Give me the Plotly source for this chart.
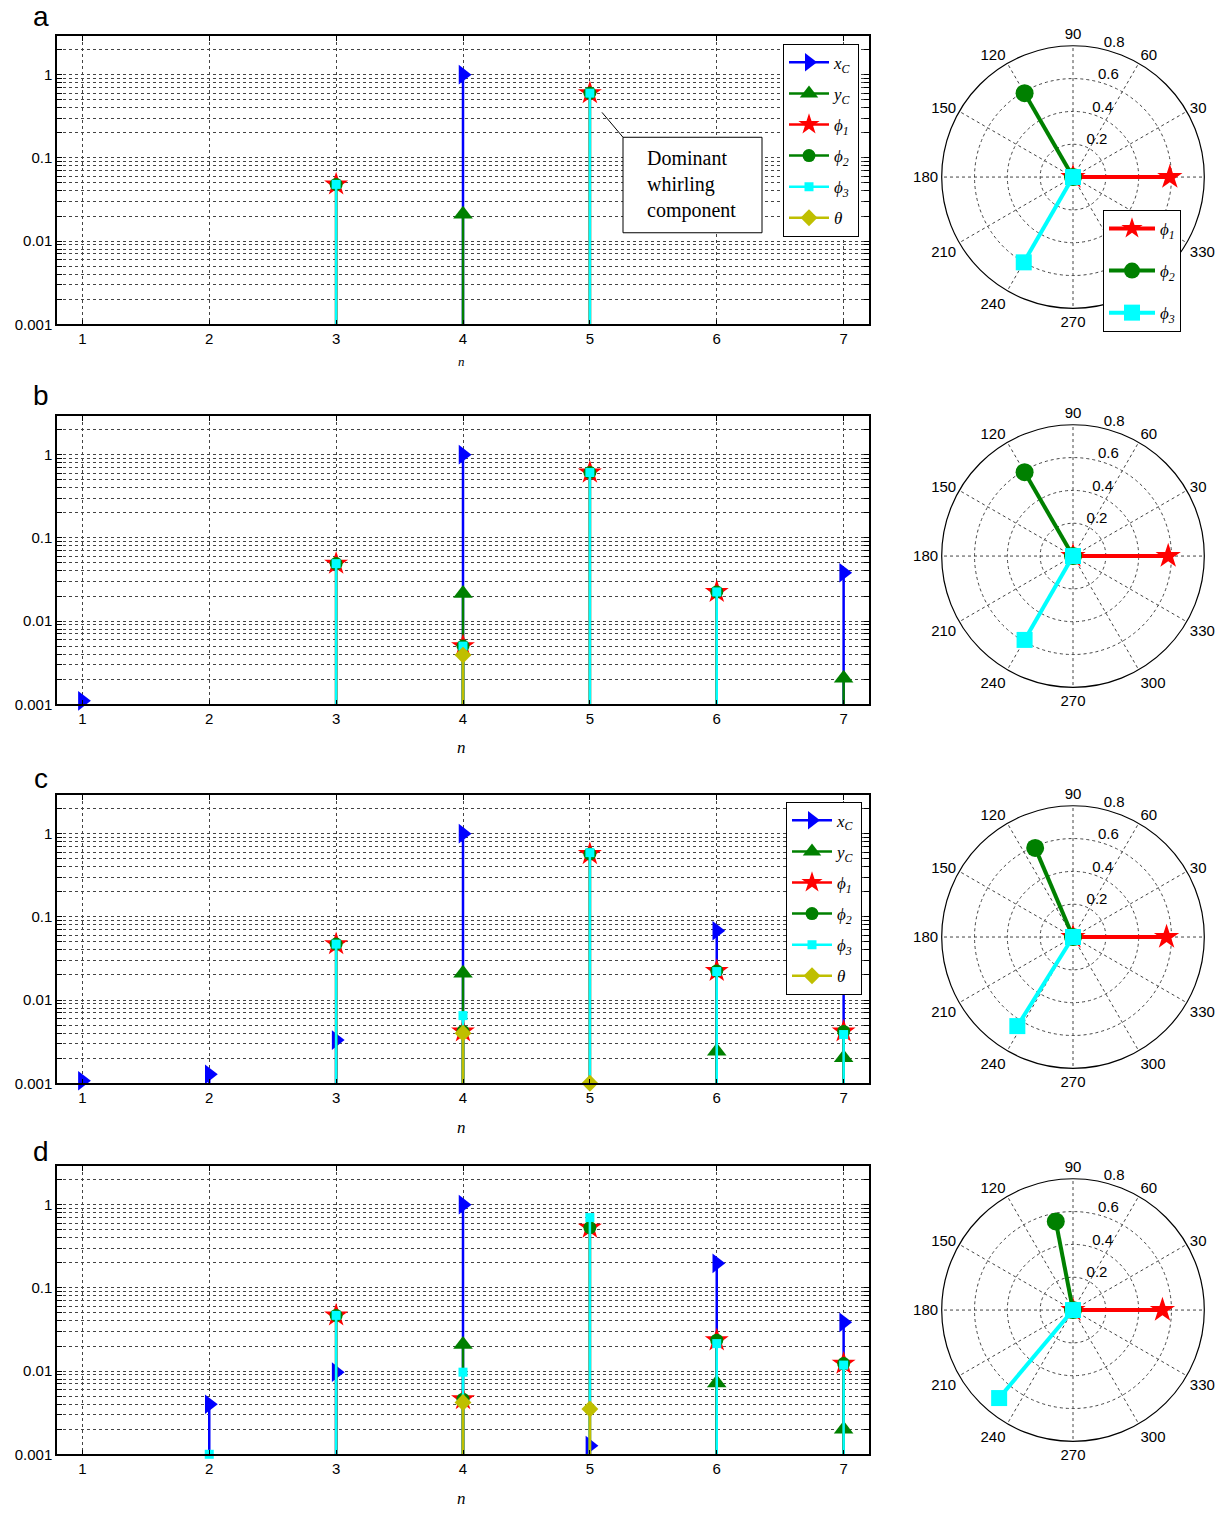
import math
import plotly.graph_objects as go

W, H = 1230, 1516

# ---------------- data ----------------
n = [1, 2, 3, 4, 5, 6, 7]
x_tick_labels = ["1", "2", "3", "4", "5", "6", "7"]
y_major_vals = [0.001, 0.01, 0.1, 1]
y_major_labels = ["0.001", "0.01", "0.1", "1"]

series_labels = ["<i>x</i><sub><i>C</i></sub>", "<i>y</i><sub><i>C</i></sub>",
                 "<i>ϕ</i><sub><i>1</i></sub>", "<i>ϕ</i><sub><i>2</i></sub>",
                 "<i>ϕ</i><sub><i>3</i></sub>", "<i>θ</i>"]

# panel a
a_xC    = [None, None, None, 1.0, None, None, None]
a_yC    = [None, None, None, 0.021, None, None, None]
a_phi1  = [None, None, 0.048, None, 0.60, None, None]
a_phi2  = [None, None, 0.048, None, 0.60, None, None]
a_phi3  = [None, None, 0.048, None, 0.60, None, None]
a_theta = [None, None, None, None, None, None, None]
# panel b
b_xC    = [0.0011, None, None, 1.0, None, None, 0.038]
b_yC    = [None, None, None, 0.0214, None, None, 0.00206]
b_phi1  = [None, None, 0.049, 0.005, 0.61, 0.0224, None]
b_phi2  = [None, None, 0.049, 0.005, 0.61, 0.0224, None]
b_phi3  = [None, None, 0.049, 0.005, 0.61, 0.0224, None]
b_theta = [None, None, None, 0.0039, None, None, None]
# panel c
c_xC    = [0.00107, 0.00128, 0.0033, 1.0, None, 0.068, 0.04]
c_yC    = [None, None, None, 0.021, None, 0.00243, 0.00203]
c_phi1  = [None, None, 0.047, 0.0042, 0.57, 0.0224, 0.0042]
c_phi2  = [None, None, 0.047, 0.0042, 0.57, 0.0224, 0.0042]
c_phi3  = [None, None, 0.047, 0.0065, 0.59, 0.022, 0.00385]
c_theta = [None, None, None, 0.0040, 0.001, None, None]
# panel d
d_xC    = [None, 0.004, 0.0097, 1.0, 0.00127, 0.197, 0.0385]
d_yC    = [None, None, None, 0.0208, None, 0.0072, 0.002]
d_phi1  = [None, None, 0.0467, 0.0046, 0.53, 0.0235, 0.0123]
d_phi2  = [None, None, 0.0467, 0.0046, 0.53, 0.0235, 0.0123]
d_phi3  = [None, 0.001, 0.0467, 0.0097, 0.70, 0.0214, 0.0118]
d_theta = [None, None, None, 0.0042, 0.0035, None, None]

# polar mode shapes (phi1, phi2, phi3)
polar_labels = ["<i>ϕ</i><sub><i>1</i></sub>", "<i>ϕ</i><sub><i>2</i></sub>", "<i>ϕ</i><sub><i>3</i></sub>"]
a_polar_r = [0.59, 0.59, 0.60]
a_polar_deg = [0, 120, 240]
b_polar_r = [0.58, 0.59, 0.59]
b_polar_deg = [0, 120, 240]
c_polar_r = [0.57, 0.59, 0.64]
c_polar_deg = [0, 113, 238]
d_polar_r = [0.545, 0.55, 0.70]
d_polar_deg = [0, 101, 230]
polar_ticks = [0.2, 0.4, 0.6, 0.8]
polar_tick_labels = ["0.2", "0.4", "0.6", "0.8"]
angle_vals = list(range(0, 360, 30))
angle_labels = [""] + [str(a) for a in range(30, 360, 30)]
# in panel a the 300 label is hidden behind the legend
angle_labels_a = [("" if a in ("300",) else a) for a in angle_labels]

panel_letters = ["a", "b", "c", "d"]

# ---------------- styling ----------------
colors = ["#0000ff", "#008000", "#ff0000", "#008000", "#00ffff", "#bfbf00"]
symbols = ["triangle-right", "triangle-up", "star", "circle", "square", "diamond"]
sizes = [17, 17, 18, 13, 9, 13]
legend_sizes = [16, 16, 16, 13, 9, 13]
polar_colors = ["#ff0000", "#008000", "#00ffff"]
polar_symbols = ["star", "circle", "square"]
polar_sizes = [19, 18, 16]

SANS = "Liberation Sans, Arial, sans-serif"
SERIF = "Liberation Serif, Times New Roman, serif"
GRID = "#444444"

panels = [
    [a_xC, a_yC, a_phi1, a_phi2, a_phi3, a_theta],
    [b_xC, b_yC, b_phi1, b_phi2, b_phi3, b_theta],
    [c_xC, c_yC, c_phi1, c_phi2, c_phi3, c_theta],
    [d_xC, d_yC, d_phi1, d_phi2, d_phi3, d_theta],
]
polars = [(a_polar_r, a_polar_deg), (b_polar_r, b_polar_deg),
          (c_polar_r, c_polar_deg), (d_polar_r, d_polar_deg)]

# layout geometry (pixels)
ax_left, ax_right = 57, 869
ax_tops = [36, 418, 799, 1172]
ax_bots = [326, 708, 1089, 1462]
polar_cx = 1073
polar_cy = [178, 559, 942, 1317]
polar_R = 132
letter_y = [17, 398, 783, 1158]
ntitle_y = [363, 751, 1133, 1506]
ntitle_size = [13, 17, 17, 17]

baseline = y_major_vals[0]
y_top = 2.93

tickvals = []
ticktext = []
for dv, lab in zip(y_major_vals, y_major_labels):
    for k in range(1, 10):
        v = dv * k
        if v <= y_top:
            tickvals.append(v)
            ticktext.append(lab if k == 1 else "")

fig = go.Figure()
layout = dict(width=W, height=H, margin=dict(l=0, r=0, t=0, b=0),
              paper_bgcolor="white", plot_bgcolor="white", showlegend=True,
              font=dict(family=SANS, color="black"))

annotations = []
shapes = []

for i, vals in enumerate(panels):
    suf = "" if i == 0 else str(i + 1)
    xa, ya = "x" + suf, "y" + suf
    for s, v in enumerate(vals):
        sx, sy, mx, my = [], [], [], []
        for ni, vi in zip(n, v):
            if vi is None:
                continue
            sx += [ni, ni, None]
            sy += [baseline, vi, None]
            mx.append(ni)
            my.append(vi)
        if not mx:
            continue
        fig.add_trace(go.Scatter(x=sx, y=sy, mode="lines", xaxis=xa, yaxis=ya,
                                 line=dict(color=colors[s], width=2.5),
                                 showlegend=False, hoverinfo="skip"))
        fig.add_trace(go.Scatter(x=mx, y=my, mode="markers", xaxis=xa, yaxis=ya,
                                 marker=dict(symbol=symbols[s], size=sizes[s], color=colors[s],
                                             line=dict(width=0)),
                                 cliponaxis=False, showlegend=False))
    # legends for panels a and c
    if i in (0, 2):
        lg = "legend" if i == 0 else "legend3"
        for s in range(6):
            fig.add_trace(go.Scatter(x=[None], y=[None], mode="lines+markers", xaxis=xa, yaxis=ya,
                                     name=series_labels[s], legend=lg, legendgroup=f"{lg}_{s}",
                                     line=dict(color=colors[s], width=2.5),
                                     marker=dict(symbol=symbols[s], size=legend_sizes[s],
                                                 color=colors[s], line=dict(width=0))))

    y0 = 1 - ax_bots[i] / H
    y1 = 1 - ax_tops[i] / H
    layout["xaxis" + suf] = dict(domain=[ax_left / W, ax_right / W], anchor=ya,
                                 range=[0.8, 7.2], tickvals=n, ticktext=x_tick_labels,
                                 ticks="inside", ticklen=5, tickcolor="black",
                                 showline=True, linecolor="black", linewidth=1.5, mirror="ticks",
                                 showgrid=True, gridcolor=GRID, griddash="dot", gridwidth=1,
                                 zeroline=False, tickfont=dict(size=15, family=SANS, color="black"))
    layout["yaxis" + suf] = dict(domain=[y0, y1], anchor=xa, type="log",
                                 range=[math.log10(baseline), math.log10(y_top)],
                                 tickvals=tickvals, ticktext=ticktext,
                                 ticks="inside", ticklen=5, tickcolor="black",
                                 showline=True, linecolor="black", linewidth=1.5, mirror="ticks",
                                 showgrid=True, gridcolor=GRID, griddash="dot", gridwidth=1,
                                 zeroline=False, tickfont=dict(size=15, family=SANS, color="black"))

    # polar
    pr, pdeg = polars[i]
    psub = "polar" + suf
    for k in range(3):
        fig.add_trace(go.Scatterpolar(r=[0, pr[k]], theta=[0, pdeg[k]], mode="lines+markers",
                                      subplot=psub, name=polar_labels[k],
                                      line=dict(color=polar_colors[k], width=4),
                                      marker=dict(symbol=polar_symbols[k], size=polar_sizes[k],
                                                  color=polar_colors[k], line=dict(width=0)),
                                      showlegend=(i == 0), legend="legend2",
                                      legendgroup=f"p{k}"))
    cy = polar_cy[i]
    layout[psub] = dict(
        domain=dict(x=[(polar_cx - polar_R) / W, (polar_cx + polar_R) / W],
                    y=[1 - (cy + polar_R) / H, 1 - (cy - polar_R) / H]),
        bgcolor="white",
        radialaxis=dict(range=[0, 0.8], tickvals=polar_ticks,
                        ticktext=[t + "<br> " for t in polar_tick_labels],
                        angle=80, tickangle=80, showline=False, ticks="", gridcolor=GRID,
                        griddash="dot", gridwidth=1,
                        tickfont=dict(size=15, family=SANS, color="black")),
        angularaxis=dict(tickvals=angle_vals,
                         ticktext=angle_labels_a if i == 0 else angle_labels,
                         direction="counterclockwise",
                         rotation=0, showline=True, linecolor="black", linewidth=1.2,
                         gridcolor=GRID, griddash="dot", gridwidth=1, ticks="",
                         tickfont=dict(size=15, family=SANS, color="black")),
    )

    annotations.append(dict(text=panel_letters[i], x=41 / W, y=1 - letter_y[i] / H,
                            xref="paper", yref="paper", xanchor="center", yanchor="middle",
                            showarrow=False,
                            font=dict(size=28, family=SANS, color="black")))
    annotations.append(dict(text="<i>n</i>", x=461 / W, y=1 - ntitle_y[i] / H,
                            xref="paper", yref="paper", xanchor="center", yanchor="middle",
                            showarrow=False,
                            font=dict(size=ntitle_size[i], family=SERIF, color="black")))

# dominant whirling component callout (panel a)
shapes.append(dict(type="rect", xref="paper", yref="paper",
                   x0=623 / W, x1=762 / W, y0=1 - 234 / H, y1=1 - 138 / H,
                   line=dict(color="black", width=1), fillcolor="white", layer="above"))
shapes.append(dict(type="line", xref="paper", yref="paper",
                   x0=602 / W, y0=1 - 113 / H, x1=623 / W, y1=1 - 138 / H,
                   line=dict(color="black", width=1)))
annotations.append(dict(text="Dominant<br>whirling<br>component", x=645 / W, y=1 - 185 / H,
                        xref="paper", yref="paper", xanchor="left", yanchor="middle",
                        align="left", showarrow=False,
                        font=dict(size=20, family=SERIF, color="black")))

leg_common = dict(xanchor="left", yanchor="top", bgcolor="white", bordercolor="black",
                  borderwidth=1, traceorder="grouped")
layout["legend"] = dict(x=783 / W, y=1 - 44 / H, font=dict(size=17, family=SERIF, color="black"),
                        tracegroupgap=6, itemwidth=40, **leg_common)
layout["legend3"] = dict(x=786 / W, y=1 - 806 / H, font=dict(size=17, family=SERIF, color="black"),
                         tracegroupgap=6, itemwidth=40, **leg_common)
layout["legend2"] = dict(x=1103 / W, y=1 - 211 / H, font=dict(size=17, family=SERIF, color="black"),
                         tracegroupgap=17, itemwidth=46, **leg_common)
layout["annotations"] = annotations
layout["shapes"] = shapes

fig.update_layout(**layout)
fig.write_html("out.html")
